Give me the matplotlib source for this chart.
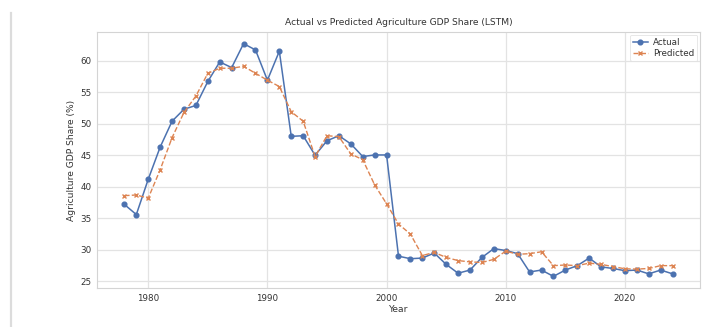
"""Actual vs predicted agriculture GDP share from the LSTM model."""
import matplotlib
matplotlib.use("Agg")
import matplotlib.pyplot as plt
from matplotlib.lines import Line2D

years = list(range(1978, 2025))

actual = [
    37.2, 35.6, 41.2, 46.3, 50.4, 52.3, 52.9, 56.7, 59.8, 58.9,
    62.7, 61.7, 56.9, 61.5, 48.0, 48.1, 45.0, 47.3, 48.1, 46.8,
    44.8, 45.05, 45.05, 29.0, 28.6, 28.7, 29.5, 27.7, 26.3, 26.8,
    28.8, 30.2, 29.9, 29.4, 26.5, 26.8, 25.8, 26.8, 27.5, 28.7,
    27.3, 27.05, 26.7, 26.8, 26.2, 26.8, 26.2,
]

predicted = [
    38.6, 38.7, 38.2, 42.7, 47.8, 51.8, 54.4, 58.0, 58.8, 58.8,
    59.1, 58.0, 56.9, 55.9, 51.9, 50.4, 44.8, 48.1, 47.95, 45.2,
    44.3, 40.3, 37.3, 34.1, 32.5, 29.1, 29.6, 28.8, 28.3, 28.1,
    28.0, 28.5, 29.8, 29.3, 29.4, 29.7, 27.5, 27.6, 27.5, 27.9,
    27.7, 27.35, 27.0, 26.95, 27.05, 27.5, 27.5,
]

TEXT = "#333333"
GRID = "#e3e3e3"

fig = plt.figure(figsize=(7.07, 3.27), dpi=100)
fig.patch.set_facecolor("white")
ax = fig.add_axes([97 / 707, 1 - 288 / 327, 603 / 707, 256 / 327])

ax.plot(years, actual, color="#4c72b0", marker="o", markersize=3.4,
        linewidth=1.1, label="Actual")
ax.plot(years, predicted, color="#dd8452", marker="x", markersize=3.2,
        linewidth=1.0, linestyle="--", label="Predicted")

ax.set_title("Actual vs Predicted Agriculture GDP Share (LSTM)",
             fontsize=6.6, color=TEXT, pad=5)
ax.set_xlabel("Year", fontsize=6.6, color=TEXT, labelpad=1.5)
ax.set_ylabel("Agriculture GDP Share (%)", fontsize=6.6, color=TEXT, labelpad=3)

ax.set_xticks([1980, 1990, 2000, 2010, 2020])
ax.set_yticks([25, 30, 35, 40, 45, 50, 55, 60])
ax.tick_params(labelsize=6.3, colors=TEXT, length=0, pad=4)

ax.grid(True, color=GRID, linewidth=0.9)
ax.set_axisbelow(True)
for spine in ax.spines.values():
    spine.set_color("#d4d4d4")
    spine.set_linewidth(0.8)

leg = ax.legend(loc="upper right", fontsize=6.3, frameon=True,
                handlelength=1.7, handletextpad=0.6, borderpad=0.35,
                labelspacing=0.25, borderaxespad=0.3)
leg.get_frame().set_edgecolor("#dddddd")
leg.get_frame().set_linewidth(0.6)
for t in leg.get_texts():
    t.set_color(TEXT)

# cell border on the left
fig.add_artist(Line2D([11 / 707, 11 / 707], [0, 1 - 13 / 327],
                      color="#dcdcdc", linewidth=1.6))

fig.savefig("out.png", dpi=100, facecolor="white")
